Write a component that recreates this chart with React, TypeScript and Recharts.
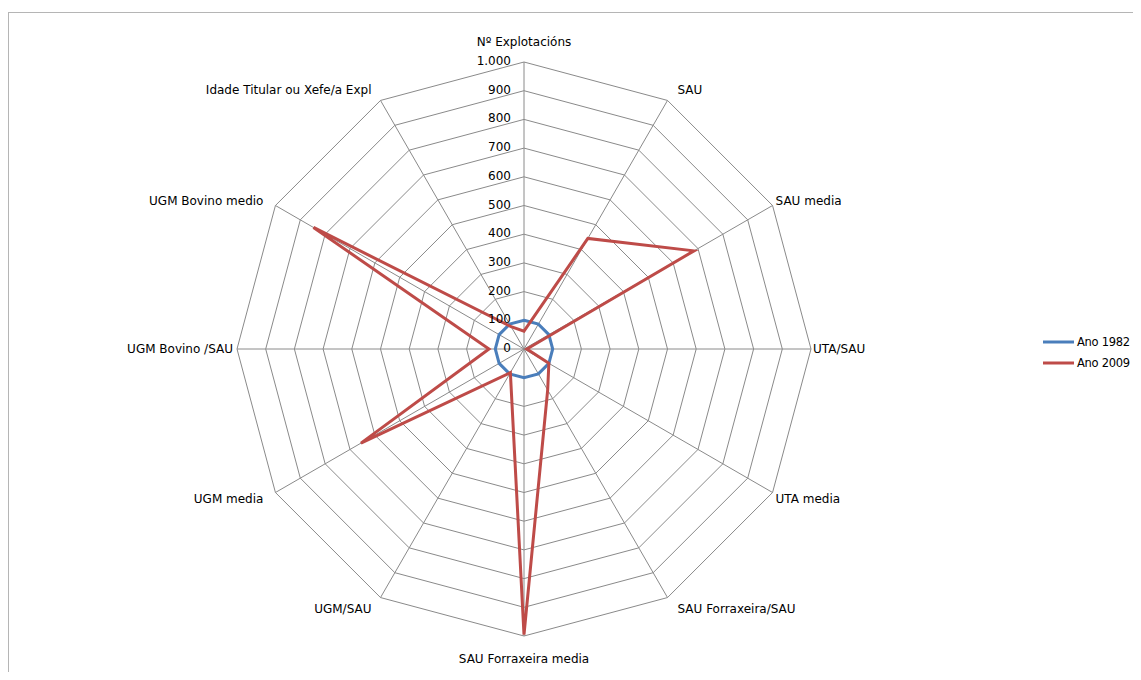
import React from 'react'
import { RadarChart, Radar, PolarGrid, PolarAngleAxis, PolarRadiusAxis, Legend } from 'recharts'

const categories = [
  'Nº Explotacións',
  'SAU',
  'SAU media',
  'UTA/SAU',
  'UTA media',
  'SAU Forraxeira/SAU',
  'SAU Forraxeira media',
  'UGM/SAU',
  'UGM media',
  'UGM Bovino /SAU',
  'UGM Bovino medio',
  'Idade Titular ou Xefe/a Expl',
]
const ano1982 = [100, 100, 100, 100, 100, 100, 100, 100, 100, 100, 100, 100]
const ano2009 = [62, 445, 684, 10, 100, 165, 995, 95, 656, 122, 847, 90]
const radiusTicks = [0, 100, 200, 300, 400, 500, 600, 700, 800, 900, 1000]

const data = categories.map((name, i) => ({ name, a1982: ano1982[i], a2009: ano2009[i] }))

const CX = 524
const CY = 349
const R = 287
const FONT = '"DejaVu Sans", sans-serif'
const BLUE = '#4a7ebb'
const RED = '#be4b48'

const fmt = (v: number) => v.toLocaleString('de-DE')

function AngleTick(props: any) {
  const label = props.payload?.value
  const i = categories.indexOf(label)
  const theta = (90 - i * 30) * Math.PI / 180
  const c = Math.cos(theta)
  const s = Math.sin(theta)
  const vx = CX + R * c
  const vy = CY - R * s
  let x = vx
  let y = vy
  let anchor: 'start' | 'middle' | 'end' = 'middle'
  if (Math.abs(c) < 0.01) {
    y = s > 0 ? vy - 20 : vy + 23
  } else {
    anchor = c > 0 ? 'start' : 'end'
    const right = c > 0
    if (Math.abs(s) > 0.8) {
      x = right ? vx + 10 : vx - 9
      y = vy + (s > 0 ? -10 : 11)
    } else if (Math.abs(s) > 0.3) {
      x = right ? vx + 3 : vx - 12
      y = vy + (s > 0 ? -5 : 6)
    } else {
      x = right ? vx + 2 : vx - 4
    }
  }
  return (
    <text x={x} y={y} textAnchor={anchor} dominantBaseline="central" fontFamily={FONT} fontSize={12} fill="#000">
      {label}
    </text>
  )
}

function RadiusTick(props: any) {
  const { x, y, payload } = props
  return (
    <text x={x - 13} y={y - 1} textAnchor="end" dominantBaseline="central" fontFamily={FONT} fontSize={12} fill="#000">
      {fmt(payload.value)}
    </text>
  )
}

function LegendBox() {
  const items = [
    { label: 'Ano 1982', color: BLUE },
    { label: 'Ano 2009', color: RED },
  ]
  return (
    <svg width={90} height={44} style={{ position: 'absolute', left: 1041, top: 331, overflow: 'visible' }}>
      {items.map((it, i) => (
        <g key={it.label} transform={`translate(0, ${11 + i * 21})`}>
          <line x1={2} y1={0} x2={33} y2={0} stroke={it.color} strokeWidth={3} />
          <text x={36} y={0} dominantBaseline="central" fontFamily={FONT} fontSize={11.5} letterSpacing={-0.3} fill="#000">
            {it.label}
          </text>
        </g>
      ))}
    </svg>
  )
}

export default function App() {
  return (
    <div style={{ position: 'relative', width: 1141, height: 680, margin: -8, background: '#fff' }}>
      <div style={{ position: 'absolute', left: 8, top: 12, width: 1128, height: 668, borderLeft: '1px solid #b5b5b5', borderTop: '1px solid #b5b5b5', borderRight: '1px solid #b5b5b5', boxSizing: 'border-box' }} />
      <RadarChart width={1141} height={680} data={data} cx={CX} cy={CY} outerRadius={R} style={{ position: 'absolute', left: 0, top: 0 }}>
        <PolarGrid gridType="polygon" stroke="#8a8a8a" strokeWidth={1} />
        <PolarAngleAxis dataKey="name" tick={<AngleTick />} tickLine={false} axisLine={false} />
        <PolarRadiusAxis angle={90} domain={[0, 1000]} ticks={radiusTicks} tick={<RadiusTick />} axisLine={false} tickLine={false} />
        <Radar name="Ano 1982" dataKey="a1982" stroke={BLUE} strokeWidth={3} fill="none" isAnimationActive={false} dot={false} />
        <Radar name="Ano 2009" dataKey="a2009" stroke={RED} strokeWidth={3} fill="none" isAnimationActive={false} dot={false} />
        <Legend content={() => null} />
      </RadarChart>
      <LegendBox />
    </div>
  )
}
